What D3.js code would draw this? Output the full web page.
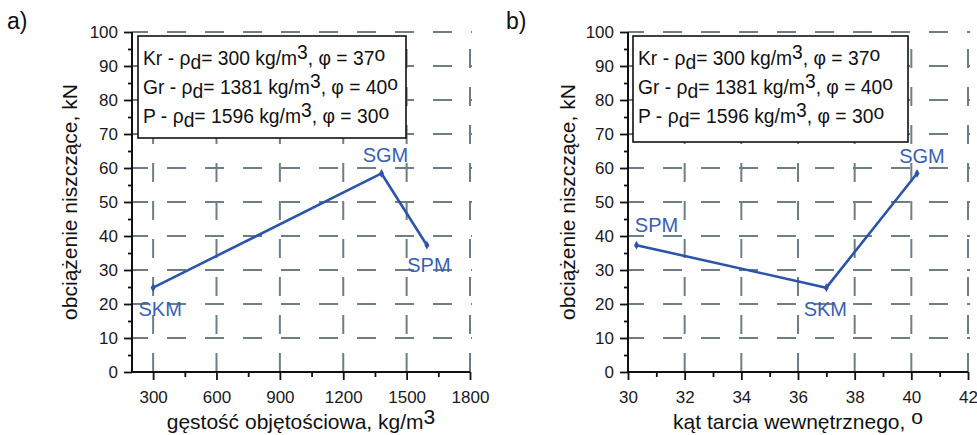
<!DOCTYPE html>
<html><head><meta charset="utf-8">
<script src="https://cdn.jsdelivr.net/npm/d3@7"></script>
<style>
body{margin:0;background:#fff;}
svg{display:block;font-family:"Liberation Sans",Arial,Helvetica,sans-serif;}
</style></head><body>
<svg id="c" width="977" height="435"></svg>
<script>
// ---- data ----
const yTicks = [0,10,20,30,40,50,60,70,80,90,100];
const yMinorTicks = [5,15,25,35,45,55,65,75,85,95];
const xTicksA = [300,600,900,1200,1500,1800];
const xMinorTicksA = [450,750,1050,1350,1650];
const xTicksB = [30,32,34,36,38,40,42];
const xMinorTicksB = [31,33,35,37,39,41];
const pointsA_x = [300,1381,1596];
const pointsA_y = [24.8,58.4,37.3];
const labelsA = ["SKM","SGM","SPM"];
const pointsB_x = [30.3,37,40.2];
const pointsB_y = [37.3,24.8,58.4];
const labelsB = ["SPM","SKM","SGM"];
const legendNames = ["Kr","Gr","P"];
const legendDensity = ["300","1381","1596"];
const legendPhi = ["37","40","30"];
const yTitle = "obciążenie niszczące, kN";
const xTitleA = "gęstość objętościowa, kg/m";
const xTitleB = "kąt tarcia wewnętrznego, ";

// ---- layout / styles ----
const svg = d3.select("#c");
const gridColor = "#6f7e84";
const lineColor = "#2c55a8";
const labelColor = "#3a60b2";

const panels = [
  {tag:"a)", tagX:7, x0:132, x1:470, domain:[200,1800], ticks:xTicksA, minor:xMinorTicksA,
   px:pointsA_x, py:pointsA_y, labels:labelsA, xTitle:xTitleA, xTitleSup:"3",
   labelOff:[[7,28],[4,-11],[2,27]], box:[138,36,406,138], yTitleX:69},
  {tag:"b)", tagX:506, x0:628, x1:968, domain:[30,42], ticks:xTicksB, minor:xMinorTicksB,
   px:pointsB_x, py:pointsB_y, labels:labelsB, xTitle:xTitleB, xTitleSup:"o",
   labelOff:[[20,-13],[-1,28],[5,-10]], box:[633,36,908,142], yTitleX:567}
];
const yTop = 32, yBot = 372;

panels.forEach(p => {
  const x = d3.scaleLinear().domain(p.domain).range([p.x0,p.x1]);
  const y = d3.scaleLinear().domain([0,100]).range([yBot,yTop]);
  const g = svg.append("g");

  // panel tag
  g.append("text").attr("x",p.tagX).attr("y",29).attr("font-size",23).attr("fill","#111").text(p.tag);

  // grid horizontal
  g.selectAll(".hg").data(yTicks.filter(d=>d>0)).enter().append("line")
    .attr("x1",p.x0).attr("x2",p.x1+2).attr("y1",d=>y(d)).attr("y2",d=>y(d))
    .attr("stroke",gridColor).attr("stroke-width",2)
    .attr("stroke-dasharray","19,19").attr("stroke-dashoffset",3);
  // grid vertical
  g.selectAll(".vg").data(p.ticks.filter(d=>x(d)>p.x0+2)).enter().append("line")
    .attr("x1",d=>x(d)).attr("x2",d=>x(d)).attr("y1",yBot).attr("y2",yTop-2)
    .attr("stroke",gridColor).attr("stroke-width",2)
    .attr("stroke-dasharray","19,19");

  // axes
  const yAxis = d3.axisLeft(y).tickValues(yTicks).tickSize(8).tickPadding(6).tickFormat(d3.format("d"));
  const ya = g.append("g").attr("transform",`translate(${p.x0},0)`).call(yAxis);
  const yAxisMinor = d3.axisLeft(y).tickValues(yMinorTicks).tickSize(4).tickFormat("");
  g.append("g").attr("transform",`translate(${p.x0},0)`).call(yAxisMinor).select(".domain").remove();

  const xAxis = d3.axisBottom(x).tickValues(p.ticks).tickSize(8).tickPadding(11).tickFormat(d3.format("d"));
  const xa = g.append("g").attr("transform",`translate(0,${yBot})`).call(xAxis);
  const xAxisMinor = d3.axisBottom(x).tickValues(p.minor).tickSize(5).tickFormat("");
  g.append("g").attr("transform",`translate(0,${yBot})`).call(xAxisMinor).select(".domain").remove();

  g.selectAll(".domain").attr("stroke","#111").attr("stroke-width",2);
  g.selectAll(".tick line").attr("stroke","#111").attr("stroke-width",1.8);
  [ya,xa].forEach(a=>a.selectAll("text").attr("font-size",17).attr("fill","#1a1a1a")
     .attr("font-family","'Liberation Sans',Arial,sans-serif"));
  ya.select(".domain").attr("d",`M0,${yBot}V${yTop}`);
  xa.select(".domain").attr("d",`M${p.x0},0H${p.x1}`);

  // legend box
  const [bx0,by0,bx1,by1] = p.box;
  g.append("rect").attr("x",bx0).attr("y",by0).attr("width",bx1-bx0).attr("height",by1-by0)
    .attr("fill","#fff").attr("stroke","#111").attr("stroke-width",1.6);
  const base = [65,94,123];
  legendNames.forEach((n,i)=>{
    const t = g.append("text").attr("x",bx0+5).attr("y",base[i]).attr("font-size",19.3).attr("fill","#111");
    t.append("tspan").text(n+" - ρ");
    t.append("tspan").attr("dy",4).text("d");
    t.append("tspan").attr("dy",-4).text("= "+legendDensity[i]+" kg/m");
    t.append("tspan").attr("dy",-6).text("3");
    t.append("tspan").attr("dy",6).text(", φ = "+legendPhi[i]);
    t.append("tspan").attr("dy",-4).text("o");
  });

  // data line
  const pts = p.px.map((v,i)=>[x(v),y(p.py[i])]);
  const order = d3.range(pts.length).sort((a,b)=>p.px[a]-p.px[b]);
  g.append("path").attr("d",d3.line()(order.map(i=>pts[i])))
    .attr("fill","none").attr("stroke",lineColor).attr("stroke-width",2.6);
  g.selectAll(".mk").data(pts).enter().append("path")
    .attr("transform",d=>`translate(${d[0]},${d[1]})`)
    .attr("d",d3.symbol(d3.symbolDiamond,22)).attr("fill",lineColor);
  g.selectAll(".lb").data(pts).enter().append("text")
    .attr("x",(d,i)=>d[0]+p.labelOff[i][0]).attr("y",(d,i)=>d[1]+p.labelOff[i][1])
    .attr("text-anchor","middle").attr("font-size",20).attr("fill",labelColor)
    .text((d,i)=>p.labels[i]);

  // titles
  const xt = g.append("text").attr("x",(p.x0+p.x1)/2).attr("y",429).attr("text-anchor","middle")
    .attr("font-size",21).attr("fill","#111");
  xt.append("tspan").text(p.xTitle);
  xt.append("tspan").attr("dy",-5).text(p.xTitleSup);
  g.append("text").attr("transform",`translate(${p.yTitleX},${(yTop+yBot)/2}) rotate(-90)`)
    .attr("text-anchor","middle").attr("dominant-baseline","central")
    .attr("font-size",21).attr("fill","#111").text(yTitle);
});
</script></body></html>
